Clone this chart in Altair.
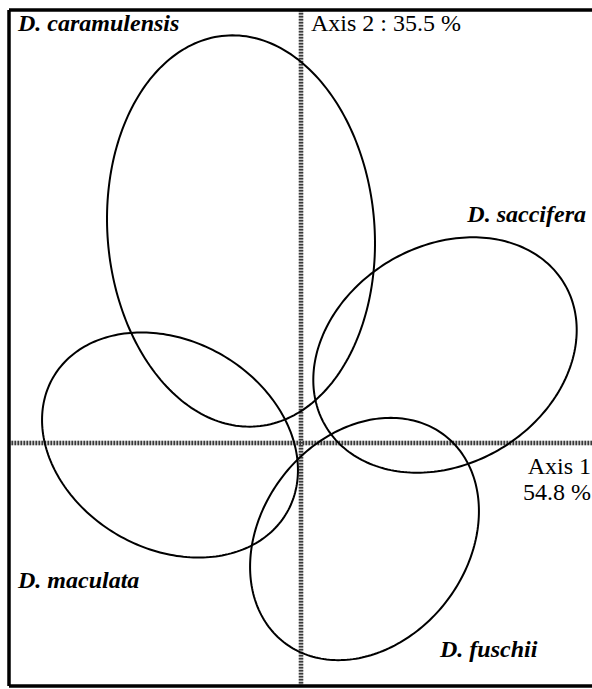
import numpy as np
import pandas as pd
import altair as alt

# Confidence ellipses on the first factorial plane (axis 1 / axis 2 scores)
species = ["D. caramulensis", "D. saccifera", "D. maculata", "D. fuschii"]
center_x = [-0.60, 1.44, -1.31, 0.635]
center_y = [2.12, 0.88, -0.02, -0.96]
semi_major = [1.96, 1.39, 1.35, 1.31]
semi_minor = [1.335, 1.09, 1.04, 1.03]
angle_deg = [94.6, 31.0, -30.0, 52.0]

axis1_label = ["Axis 1", "54.8 %"]
axis2_label = "Axis 2 : 35.5 %"

X_DOMAIN = [-2.92, 2.91]
Y_DOMAIN = [-2.43, 4.33]
W, H = 583, 676

# outline of each ellipse from its centre, semi-axes and orientation
rows = []
t = np.linspace(0, 2 * np.pi, 241)
for name, cx, cy, a, b, ang in zip(species, center_x, center_y, semi_major, semi_minor, angle_deg):
    th = np.deg2rad(ang)
    ex = cx + a * np.cos(t) * np.cos(th) - b * np.sin(t) * np.sin(th)
    ey = cy + a * np.cos(t) * np.sin(th) + b * np.sin(t) * np.cos(th)
    for i, (px, py) in enumerate(zip(ex, ey)):
        rows.append({"species": name, "i": i, "x": px, "y": py})
ell = pd.DataFrame(rows)

xs = alt.Scale(domain=X_DOMAIN, nice=False, zero=False)
ys = alt.Scale(domain=Y_DOMAIN, nice=False, zero=False)

one = pd.DataFrame({"k": [0]})


def axis_line(channel, color, dash=None):
    kw = {"color": color, "strokeWidth": 4.5}
    if dash:
        kw["strokeDash"] = dash
    base = alt.Chart(one).mark_rule(**kw).transform_calculate(zero="0")
    if channel == "x":
        return base.encode(x=alt.X("zero:Q", scale=xs, axis=None))
    return base.encode(y=alt.Y("zero:Q", scale=ys, axis=None))


# checkered axis lines through the origin
axes_lines = [
    axis_line("y", "#c4c4c4"), axis_line("x", "#c4c4c4"),
    axis_line("y", "#3a3a3a", [1.5, 1.5]), axis_line("x", "#3a3a3a", [1.5, 1.5]),
]

ellipses = alt.Chart(ell).mark_line(color="black", strokeWidth=2).encode(
    x=alt.X("x:Q", scale=xs, axis=None),
    y=alt.Y("y:Q", scale=ys, axis=None),
    detail="species:N",
    order="i:Q",
)

# frame: left, top and bottom edges
left_edge = alt.Chart(one).mark_rule(color="black", strokeWidth=3.5).encode(
    x=alt.value(0), y=alt.value(0), y2=alt.value(H))
top_edge = alt.Chart(one).mark_rule(color="black", strokeWidth=3.5).encode(
    x=alt.value(0), x2=alt.value(W + 5), y=alt.value(0))
bottom_edge = alt.Chart(one).mark_rule(color="black", strokeWidth=3.5).encode(
    x=alt.value(0), x2=alt.value(W + 5), y=alt.value(H))

FONT = "Liberation Serif"


def label(text, x, y, align="left", italic=True, size=24):
    return alt.Chart(one).mark_text(
        text=text, align=align, baseline="alphabetic", font=FONT,
        fontSize=size, fontStyle="italic" if italic else "normal",
        fontWeight="bold" if italic else "normal", color="black",
    ).encode(x=alt.value(x), y=alt.value(y))


labels = [
    label(species[0], 9, 21),
    label(axis2_label, 302, 21, italic=False),
    label(species[1], 577, 212, align="right"),
    label(axis1_label[0], 582, 464, align="right", italic=False),
    label(axis1_label[1], 582, 490, align="right", italic=False),
    label(species[2], 9, 578),
    label(species[3], 431, 647),
]

chart = alt.layer(
    *axes_lines, ellipses,
    left_edge, top_edge, bottom_edge, *labels,
).properties(
    width=W, height=H,
    padding={"left": 9, "top": 10, "right": 0, "bottom": 3},
    autosize=alt.AutoSizeParams(type="none"),
    background="white",
).configure_view(stroke=None)

chart.save("out.html", embed_options={"renderer": "svg", "actions": False})
